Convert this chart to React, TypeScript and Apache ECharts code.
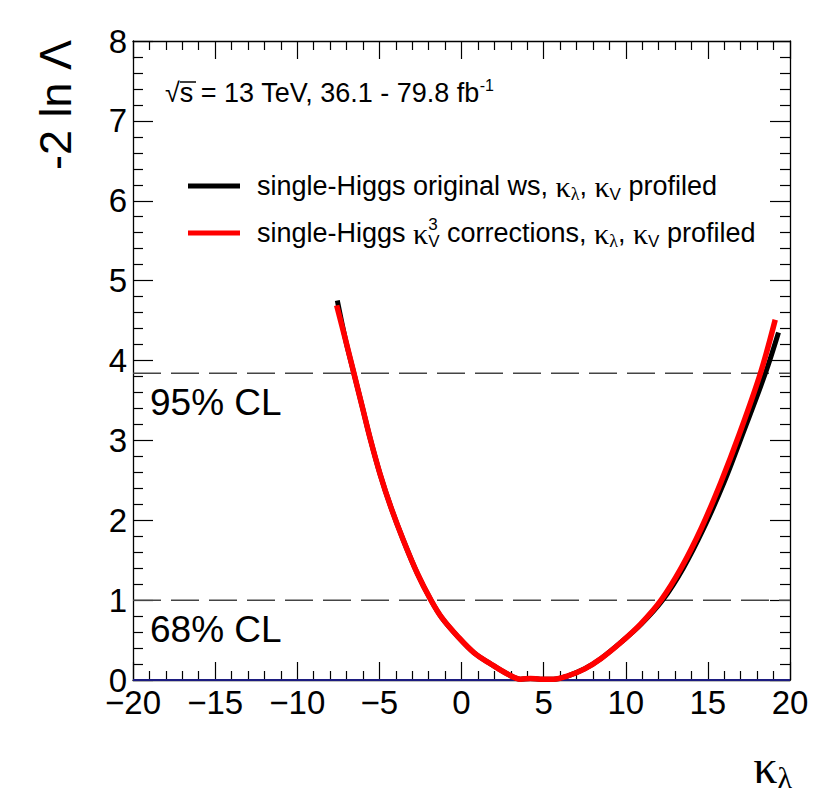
import React, { useEffect, useRef } from "react";
import * as echarts from "echarts";

// κλ scan values
const kappaBlack = [-7.56, -7.05, -6.55, -6.04, -5.53, -4.96, -4.31, -3.54, -2.68, -1.86, -1.2, -0.25, 0.77, 1.79, 2.8, 3.6, 4.2, 4.8, 5.6, 6.45, 7.5, 8.5, 9.7, 10.95, 12.25, 13.5, 14.75, 16.0, 17.1, 18.5, 19.3];
const nllBlack = [4.75, 4.25, 3.84, 3.42, 3.0, 2.58, 2.17, 1.75, 1.33, 1.0, 0.78, 0.55, 0.34, 0.2, 0.075, 0.01, 0.02, 0.01, 0.01, 0.05, 0.14, 0.27, 0.47, 0.7, 1.0, 1.4, 1.9, 2.48, 3.07, 3.84, 4.35];
const kappaRed = [-7.6, -7.05, -6.55, -6.04, -5.53, -4.96, -4.31, -3.54, -2.68, -1.86, -1.2, -0.25, 0.77, 1.79, 2.8, 3.6, 4.2, 4.8, 5.6, 6.45, 7.5, 8.5, 9.7, 10.9, 12.15, 13.37, 14.6, 15.8, 16.9, 18.2, 19.1];
const nllRed = [4.69, 4.25, 3.84, 3.42, 3.0, 2.58, 2.17, 1.75, 1.33, 1.0, 0.78, 0.55, 0.34, 0.2, 0.075, 0.01, 0.02, 0.01, 0.01, 0.05, 0.14, 0.27, 0.47, 0.7, 1.0, 1.4, 1.9, 2.48, 3.07, 3.84, 4.51];

const clLevels = [1, 3.84];
const clLabels = ["68% CL", "95% CL"];
const xRange = [-20, 20];
const yRange = [0, 8];
const xStep = 5;
const yStep = 1;

const seriesNames = ["original", "k3"];

const SANS = "'Liberation Sans', Arial, Helvetica, sans-serif";
const SERIF = "'Liberation Serif', 'Times New Roman', serif";

const legendRich = {
  gap: { width: 12 },
  t: { fontSize: 27, fontFamily: SANS, lineHeight: 34, color: "#000" },
  k: { fontSize: 30, fontFamily: SERIF, lineHeight: 34, color: "#000" },
  sl: { fontSize: 18, fontFamily: SERIF, lineHeight: 17, verticalAlign: "bottom", color: "#000" },
  sv: { fontSize: 17, fontFamily: SANS, lineHeight: 17, verticalAlign: "bottom", color: "#000" },
  sup: { fontSize: 17, fontFamily: SANS, lineHeight: 17, verticalAlign: "top", width: 0, color: "#000" },
};

const zip = (xs: number[], ys: number[]) => xs.map((x, i) => [x, ys[i]]);
const fmtTick = (v: number) => (v < 0 ? "\u2212" + Math.abs(v) : String(v));

export default function App() {
  const ref = useRef<HTMLDivElement>(null);
  useEffect(() => {
    const chart = echarts.init(ref.current!, null, { renderer: "svg" });
    const lineCommon = {
      axisLine: { show: true, onZero: false, lineStyle: { color: "#000", width: 1.3 } },
      splitLine: { show: false },
    };
    const xTicks = {
      axisTick: { show: true, inside: true, length: 18, lineStyle: { color: "#000", width: 1.2 } },
      minorTick: { show: true, splitNumber: 5, length: 9, lineStyle: { color: "#000", width: 1.2 } },
    };
    const yTicks = {
      axisTick: { show: true, inside: true, length: 20, lineStyle: { color: "#000", width: 1.2 } },
      minorTick: { show: true, splitNumber: 5, length: 10, lineStyle: { color: "#000", width: 1.2 } },
    };
    const option: any = {
      animation: false,
      backgroundColor: "#fff",
      grid: { left: 133, right: 40, top: 41, bottom: 129, containLabel: false },
      xAxis: [
        {
          type: "value", min: xRange[0], max: xRange[1], interval: xStep, position: "bottom",
          ...lineCommon, ...xTicks,
          axisLabel: { fontSize: 33, fontFamily: SANS, color: "#000", margin: 6, formatter: fmtTick },
        },
        {
          type: "value", min: xRange[0], max: xRange[1], interval: xStep, position: "top",
          ...lineCommon, ...xTicks,
          axisLabel: { show: false },
        },
      ],
      yAxis: [
        {
          type: "value", min: yRange[0], max: yRange[1], interval: yStep, position: "left",
          ...lineCommon, ...yTicks,
          axisLabel: { fontSize: 33, fontFamily: SANS, color: "#000", margin: 6 },
        },
        {
          type: "value", min: yRange[0], max: yRange[1], interval: yStep, position: "right",
          ...lineCommon, ...yTicks,
          axisLabel: { show: false },
        },
      ],
      legend: {
        orient: "vertical",
        left: 188,
        top: 171,
        padding: 0,
        itemGap: 13,
        itemWidth: 52,
        itemHeight: 5,
        icon: "rect",
        data: seriesNames,
        textStyle: { rich: legendRich, fontFamily: SANS, fontSize: 27 },
        formatter: (name: string) =>
          name === "original"
            ? "{gap|}{t|single-Higgs original ws, }{k|κ}{sl|λ}{t|, }{k|κ}{sv|V}{t| profiled}"
            : "{gap|}{t|single-Higgs }{k|κ}{sup|3}{sv|V}{t| corrections, }{k|κ}{sl|λ}{t|, }{k|κ}{sv|V}{t| profiled}",
      },
      series: [
        {
          name: "baseline",
          type: "line",
          data: [[xRange[0], 0], [xRange[1], 0]],
          symbol: "none",
          lineStyle: { color: "#1c1c80", width: 2.2 },
          z: 1,
          silent: true,
        },
        ...clLevels.map((lvl, i) => ({
          name: clLabels[i],
          type: "line",
          data: [[xRange[0], lvl], [xRange[1], lvl]],
          symbol: "none",
          lineStyle: { color: "#444", width: 1.5, type: [28, 10] },
          z: 1,
          silent: true,
          markPoint: {
            symbol: "rect",
            symbolSize: 0,
            data: [{ coord: [xRange[0], lvl] }],
            label: {
              show: true,
              formatter: clLabels[i],
              position: "insideTopLeft",
              offset: [12, 6],
              fontSize: 37,
              fontFamily: SANS,
              color: "#000",
              align: "left",
              verticalAlign: "top",
            },
          },
        })),
        {
          name: seriesNames[0],
          type: "line",
          data: zip(kappaBlack, nllBlack),
          smooth: 0.35,
          symbol: "none",
          color: "#000",
          lineStyle: { color: "#000", width: 5 },
          z: 3,
        },
        {
          name: seriesNames[1],
          type: "line",
          data: zip(kappaRed, nllRed),
          smooth: 0.35,
          symbol: "none",
          color: "#ff0000",
          lineStyle: { color: "#ff0000", width: 5.5 },
          z: 4,
        },
      ],
      graphic: [
        {
          type: "text",
          x: 165,
          y: 77,
          style: {
            text: "{t|√s = 13 TeV, 36.1 - 79.8 fb}{sup|-1}",
            rich: {
              t: { fontSize: 27, fontFamily: SANS, lineHeight: 32, fill: "#000" },
              sup: { fontSize: 16, fontFamily: SANS, lineHeight: 14, verticalAlign: "top", fill: "#000" },
            },
          },
        },
        {
          type: "line",
          shape: { x1: 180, y1: 82, x2: 196, y2: 82 },
          style: { stroke: "#000", lineWidth: 1.5 },
        },
        {
          type: "text",
          x: 55,
          y: 40,
          rotation: Math.PI / 2,
          style: {
            text: "-2 ln Λ",
            font: `45px ${SANS}`,
            fill: "#000",
            align: "right",
            verticalAlign: "middle",
          },
        },
        {
          type: "text",
          x: 792,
          y: 740,
          style: {
            text: "{k|κ}{s|λ}",
            align: "right",
            verticalAlign: "top",
            rich: {
              k: { fontSize: 48, fontFamily: SERIF, lineHeight: 52, fill: "#000" },
              s: { fontSize: 30, fontFamily: SERIF, lineHeight: 24, verticalAlign: "bottom", fill: "#000" },
            },
          },
        },
      ],
    };
    chart.setOption(option);
    return () => chart.dispose();
  }, []);
  return (
    <div
      ref={ref}
      style={{ position: "fixed", left: 0, top: 0, width: 830, height: 809, background: "#fff" }}
    />
  );
}
